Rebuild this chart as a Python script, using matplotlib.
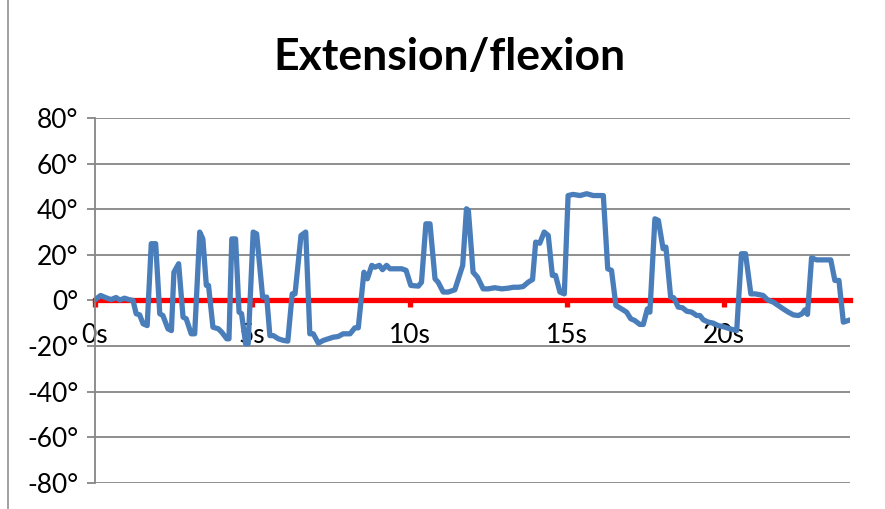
import numpy as np
import matplotlib
matplotlib.use("Agg")
import matplotlib.pyplot as plt
from matplotlib.lines import Line2D

plt.rcParams['font.family'] = ['Lato', 'DejaVu Sans']

# ------------------------------ angle samples ------------------------------- #
time_s = [
    0.00, 0.18, 0.35, 0.51, 0.67, 0.79, 0.94, 1.10, 1.21, 1.31, 1.42, 1.53,
    1.66, 1.79, 1.93, 2.06, 2.16, 2.32, 2.43, 2.51, 2.66, 2.80, 2.90, 3.06,
    3.17, 3.33, 3.43, 3.54, 3.61, 3.75, 3.92, 4.03, 4.19, 4.26, 4.35, 4.47,
    4.58, 4.66, 4.79, 4.87, 5.03, 5.14, 5.33, 5.46, 5.56, 5.67, 5.83, 5.99,
    6.13, 6.27, 6.36, 6.55, 6.70, 6.83, 6.94, 7.10, 7.26, 7.42, 7.57, 7.73,
    7.89, 8.11, 8.26, 8.37, 8.55, 8.66, 8.80, 8.90, 9.04, 9.14, 9.27, 9.38,
    9.54, 9.75, 9.89, 10.04, 10.28, 10.38, 10.52, 10.65, 10.81, 10.91, 11.07,
    11.23, 11.44, 11.69, 11.81, 11.87, 12.02, 12.16, 12.34, 12.50, 12.71,
    12.93, 13.14, 13.30, 13.46, 13.61, 13.77, 13.91, 14.01, 14.14, 14.28,
    14.41, 14.54, 14.64, 14.78, 14.92, 15.04, 15.20, 15.42, 15.63, 15.84,
    16.16, 16.30, 16.42, 16.56, 16.74, 16.90, 17.03, 17.16, 17.32, 17.43,
    17.56, 17.64, 17.80, 17.91, 18.06, 18.15, 18.30, 18.40, 18.54, 18.68,
    18.81, 18.97, 19.13, 19.23, 19.34, 19.50, 19.65, 19.81, 20.03, 20.18,
    20.40, 20.55, 20.68, 20.85, 20.98, 21.11, 21.24, 21.38, 21.56, 21.72,
    21.88, 22.04, 22.20, 22.36, 22.48, 22.57, 22.65, 22.78, 22.94, 23.10,
    23.26, 23.39, 23.52, 23.65, 23.79, 23.94,
]
angle_deg = [
    0.3, 2.2, 1.2, 0.4, 1.3, 0.2, 1.0, 0.3, 0.0, -5.8, -6.3, -10.2,
    -11.0, 24.9, 24.9, -5.8, -6.6, -12.4, -13.2, 12.4, 16.1, -7.3, -8.0, -14.6,
    -14.6, 30.0, 27.0, 6.6, 6.6, -11.7, -12.4, -13.9, -16.8, -16.8, 27.0, 27.0,
    -5.1, -5.8, -19.0, -19.0, 30.0, 29.2, 1.5, 1.5, -15.4, -15.4, -16.8, -17.5,
    -17.8, 2.9, 2.9, 28.5, 30.0, -14.6, -14.6, -18.7, -17.5, -16.8, -16.1, -15.8,
    -14.6, -14.6, -12.0, -12.0, 12.4, 9.5, 15.4, 14.6, 15.4, 13.5, 15.4, 13.9,
    13.9, 13.9, 13.2, 6.6, 6.3, 8.0, 33.6, 33.6, 9.5, 8.0, 3.7,
    3.7, 4.7, 15.4, 40.2, 39.5, 12.4, 10.2, 5.1, 5.1, 5.6,
    5.1, 5.4, 5.8, 5.8, 6.1, 8.0, 9.2, 25.6, 25.1, 30.0,
    28.5, 11.0, 11.0, 3.7, 2.9, 46.0, 46.5, 46.0, 46.8, 46.0,
    46.0, 13.9, 13.2, -2.2, -3.7, -5.1, -8.0, -8.8, -10.5, -10.5,
    -3.7, -5.1, 35.8, 35.1, 22.7, 23.4, 1.5, 1.2, -2.9, -3.2,
    -4.7, -5.1, -6.6, -6.6, -8.5, -9.5, -9.9, -11.0, -11.7, -12.4,
    -13.2, 20.5, 20.5, 2.9, 2.9, 2.6, 2.2, 0.3, -0.7, -2.2,
    -3.7, -5.1, -6.3, -6.6, -5.8, -4.1, -6.1, 18.7, 17.8, 17.8,
    17.8, 17.8, 8.8, 8.8, -9.5, -8.8,
]

x_ticks = [0, 5, 10, 15, 20]
x_labels = ['0s', '5s', '10s', '15s', '20s']
y_ticks = [-80, -60, -40, -20, 0, 20, 40, 60, 80]
y_labels = ['{}°'.format(v) for v in y_ticks]

grid_gray = '#868686'
line_blue = '#4a7ebb'

# ---------------------- create the figure and axes ---------------------- #
fig = plt.figure(figsize=(8.85, 5.09), dpi=100)
ax = fig.add_axes([0.1073, 0.0511, 0.8531, 0.7171])

ax.plot(time_s, angle_deg, color=line_blue, linewidth=3.8,
        solid_joinstyle='round', zorder=3)

ax.set_xlim(0, 24)
ax.set_ylim(-80, 80)

# horizontal grid
ax.set_yticks(y_ticks)
ax.set_yticklabels(y_labels, fontsize=19)
ax.yaxis.grid(True, color=grid_gray, linewidth=1.3)
ax.set_axisbelow(True)
ax.tick_params(axis='y', direction='out', length=6, width=1.3,
               color=grid_gray, pad=6)

# red zero axis with its ticks and labels
ax.spines['bottom'].set_position(('data', 0))
ax.spines['bottom'].set_color('red')
ax.spines['bottom'].set_linewidth(3.8)
ax.spines['bottom'].set_zorder(2)
ax.set_xticks(x_ticks)
ax.set_xticklabels(x_labels, fontsize=19)
ax.tick_params(axis='x', direction='out', length=5, width=3.8,
               color='red', pad=11)

ax.spines['left'].set_color(grid_gray)
ax.spines['left'].set_linewidth(1.3)
ax.spines['top'].set_visible(False)
ax.spines['right'].set_visible(False)

# ---------------------------- titles & misc ----------------------------- #
fig.text(0.508, 0.888, 'Extension/flexion', ha='center', va='center',
         fontsize=32, fontweight='bold')

# chart frame edge on the left
fig.add_artist(Line2D([0.009, 0.009], [0, 1], transform=fig.transFigure,
                      color='#9a9a9a', linewidth=1.3))

fig.savefig('out.png', dpi=100)
